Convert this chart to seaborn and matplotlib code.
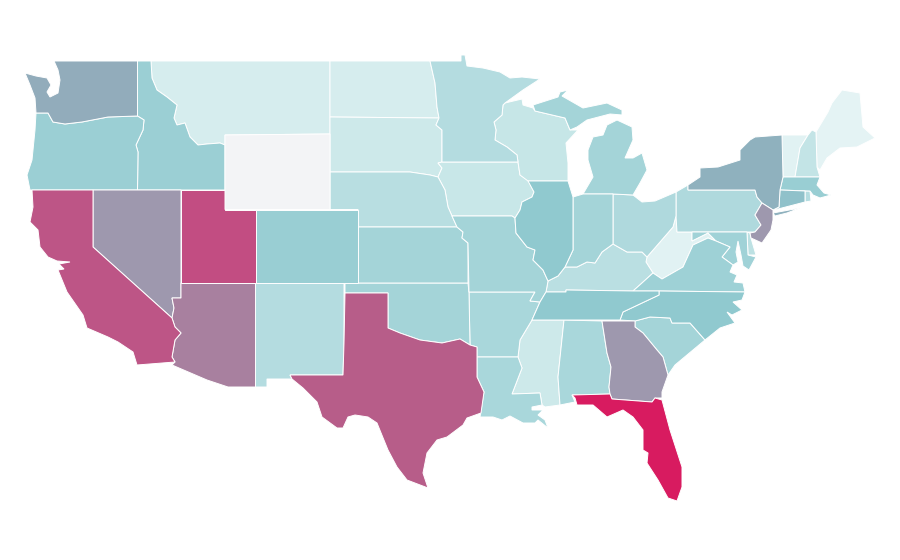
import matplotlib
matplotlib.use("Agg")
import matplotlib.pyplot as plt
import seaborn as sns

# --- DATA ---
STATES = ["ME", "WV", "VT", "MT", "ND", "SD", "MS", "IA", "WI", "NH", "DE", "KY",
          "NE", "NM", "MN", "RI", "PA", "OH", "AR", "AL", "LA", "MI", "OK", "KS",
          "MO", "IN", "SC", "MD", "VA", "ID", "OR", "CO", "MA", "NC", "TN", "IL",
          "CT", "NY", "WA", "NJ", "GA", "NV", "AZ", "TX", "CA", "UT", "FL", "WY"]
VALUES = [10, 11, 11, 15, 15, 18, 18, 20, 21, 22, 24, 25,
          26, 27, 27, 27, 29, 29, 31, 31, 31, 33, 33, 33,
          33, 33, 33, 34, 35, 36, 36, 37, 37, 40, 40, 40,
          43, 50, 52, 60, 60, 60, 70, 80, 85, 90, 100, 0]
# even steps of 10 from 0 to 100
SCALE = ["#f3f4f6", "#e4f3f4", "#c8e7e8", "#acd8dc", "#90c9cf", "#8fb1be",
         "#9e98ae", "#a8819f", "#b75d89", "#c24e83", "#d81b60"]

OUTLINES = {
    "WA": [[(54, 61), (137.5, 61), (137.5, 116), (108, 117), (82, 122), (65, 124), (53, 122), (48, 113), (36, 113),
            (35, 98), (30, 85), (25, 73), (36, 76), (47, 78), (51, 85), (47, 92), (50, 97), (58, 93), (60, 80), (58, 70)]],
    "OR": [[(36, 113), (48, 113), (53, 122), (65, 124), (82, 122), (108, 117), (137.5, 116), (144, 120), (143, 130),
            (136, 145), (138, 152), (137.5, 190), (30, 190), (27, 175), (32, 160), (35, 130)]],
    "ID": [[(137.5, 61), (151, 61), (152, 78), (157, 90), (167, 97), (177, 105), (174, 118), (177, 125), (185, 123),
            (190, 137), (198, 145), (207, 144), (220, 143), (225, 145), (225, 190), (137.5, 190), (138, 152),
            (136, 145), (143, 130), (144, 120), (137.5, 116)]],
    "MT": [[(151, 61), (330, 61), (330, 134), (225, 135), (225, 145), (220, 143), (207, 144), (198, 145), (190, 137),
            (185, 123), (177, 125), (174, 118), (177, 105), (167, 97), (157, 90), (152, 78)]],
    "WY": [[(225, 135), (330, 134), (330, 209.5), (225, 209.5)]],
    "CA": [[(32, 190), (93, 190), (93, 247), (172, 318), (175, 327), (181, 333), (175, 340), (172, 357), (175, 362),
            (137, 365), (133, 352), (118, 342), (108, 337), (87, 328), (83, 315), (67, 292), (58, 270), (64, 269),
            (59, 264), (70, 262), (57, 261), (48, 257), (40, 247), (38, 230), (30, 222), (33, 207)]],
    "NV": [[(93, 190), (181, 190), (181, 298), (172, 298), (174, 308), (172, 318), (93, 247)]],
    "UT": [[(181, 190), (225, 190), (225, 209.5), (255.5, 209.5), (255.5, 283), (181, 283)]],
    "AZ": [[(181, 283), (255.5, 283), (255.5, 387), (228, 387), (207, 380), (172, 365), (175, 362), (172, 357),
            (175, 340), (181, 333), (175, 327), (172, 318), (174, 308), (172, 298), (181, 298)]],
    "CO": [[(255.5, 209.5), (358, 209.5), (358, 283), (255.5, 283)]],
    "NM": [[(255.5, 283), (344, 283), (344, 343), (343, 375), (290, 375), (292, 379), (267, 379), (267, 387), (255.5, 387)]],
    "TX": [[(345, 293), (388, 293), (388, 328), (400, 333), (420, 340), (442, 343), (460, 339), (470, 345), (477, 347),
            (477, 377), (484, 392), (481, 413), (467, 418), (463, 425), (447, 437), (437, 440), (427, 453), (423, 473),
            (428, 488), (407, 480), (397, 467), (388, 450), (377, 423), (368, 417), (355, 415), (348, 417), (343, 428),
            (337, 428), (322, 417), (317, 402), (303, 388), (292, 379), (290, 375), (343, 375), (344, 343)]],
    "OK": [[(345, 283), (468, 283), (469, 293), (470, 345), (460, 339), (442, 343), (420, 340), (400, 333), (388, 328),
            (388, 293), (345, 293)]],
    "KS": [[(358, 227), (457, 227), (463, 232), (462, 238), (468, 243), (468, 283), (358, 283)]],
    "NE": [[(330, 172), (410, 172), (430, 175), (438, 177), (445, 190), (448, 207), (452, 216), (457, 227), (358, 227),
            (358, 209.5), (330, 209.5)]],
    "SD": [[(330, 117), (439, 118), (436, 125), (442, 130), (442, 162), (438, 163), (442, 168), (438, 177), (430, 175),
            (410, 172), (330, 172)]],
    "ND": [[(330, 61), (430, 61), (435, 83), (437, 107), (439, 118), (330, 117)]],
    "MN": [[(430, 61), (461, 61), (461, 55), (465, 55), (467, 66), (483, 68), (500, 72), (510, 78), (522, 77), (540, 79),
            (523, 90), (505, 103), (503, 105), (502, 115), (494, 122), (496, 130), (495, 140), (507, 147), (517, 155),
            (518, 162), (442, 162), (442, 130), (436, 125), (439, 118), (437, 107), (435, 83)]],
    "IA": [[(442, 162), (518, 162), (520, 175), (528, 180), (534, 192), (532, 197), (522, 202), (520, 210), (515, 218),
            (512, 216), (452, 216), (448, 207), (445, 190), (438, 177), (442, 168), (438, 163)]],
    "MO": [[(452, 216), (512, 216), (515, 218), (516, 233), (527, 247), (535, 250), (533, 260), (543, 270), (548, 281),
            (546, 292), (540, 302), (530, 301), (535, 292), (469, 292), (468, 243), (462, 238), (463, 232), (457, 227)]],
    "AR": [[(469, 292), (535, 292), (530, 301), (540, 302), (532, 320), (520, 340), (518, 357), (477, 357), (477, 347),
            (470, 345)]],
    "LA": [[(477, 357), (518, 357), (522, 368), (512, 394), (540, 393), (542, 405), (532, 407), (532, 410), (543, 410),
            (538, 415), (545, 420), (548, 428), (538, 420), (535, 423), (523, 423), (510, 416), (502, 420), (493, 417),
            (480, 417), (484, 392), (477, 377)]],
    "WI": [[(505, 103), (522, 99), (523, 105), (533, 108), (535, 111), (565, 118), (570, 130), (578, 130), (566, 143),
            (568, 163), (568, 181), (528, 181), (520, 175), (518, 162), (517, 155), (507, 147), (495, 140), (496, 130),
            (494, 122), (502, 115), (503, 105)]],
    "IL": [[(528, 181), (568, 181), (573, 197), (573, 250), (565, 267), (558, 276), (548, 281), (543, 270), (533, 260),
            (535, 250), (527, 247), (516, 233), (515, 218), (520, 210), (522, 202), (532, 197), (534, 192)]],
    "IN": [[(573, 197), (583, 194), (613, 194), (613, 244), (602, 252), (595, 263), (587, 262), (577, 267), (565, 267),
            (573, 250)]],
    "MI": [[(583, 194), (593, 177), (588, 160), (588, 150), (593, 137), (603, 135), (607, 125), (617, 120), (632, 127),
            (633, 140), (625, 158), (633, 158), (642, 153), (647, 170), (640, 183), (633, 195), (613, 194)],
           [(533, 105), (558, 97), (560, 92), (568, 90), (562, 96), (583, 108), (607, 103), (622, 110), (622, 115),
            (610, 114), (587, 120), (577, 127), (570, 130), (565, 118), (535, 111)]],
    "OH": [[(613, 194), (633, 195), (642, 202), (655, 201), (676, 192), (676, 216), (673, 227), (660, 242), (647, 257),
            (642, 252), (627, 252), (613, 244)]],
    "KY": [[(548, 281), (558, 276), (565, 267), (577, 267), (587, 262), (595, 263), (602, 252), (613, 244), (627, 252),
            (642, 252), (647, 257), (646, 262), (653, 273), (642, 283), (633, 291), (566, 290), (566, 292), (546, 292)]],
    "TN": [[(546, 292), (566, 292), (566, 290), (633, 291), (659, 291), (659, 295), (642, 303), (623, 312), (620, 320),
            (532, 320), (540, 302)]],
    "MS": [[(532, 320), (564, 320), (558, 377), (560, 405), (545, 407), (542, 405), (540, 393), (512, 394), (522, 368),
            (518, 357), (520, 340)]],
    "AL": [[(564, 320), (602, 321), (607, 353), (611, 367), (609, 387), (610, 394), (572, 395), (575, 402), (560, 405),
            (558, 377)]],
    "GA": [[(602, 321), (635, 321), (635, 327), (643, 333), (657, 350), (663, 357), (668, 375), (662, 392), (662, 398),
            (655, 398), (652, 402), (612, 399), (610, 394), (609, 387), (611, 367), (607, 353)]],
    "FL": [[(572, 395), (610, 394), (612, 399), (652, 402), (655, 398), (662, 400), (670, 430), (682, 467), (682, 487),
            (677, 501), (668, 498), (658, 480), (647, 463), (648, 453), (643, 450), (643, 430), (633, 417), (623, 410),
            (607, 417), (593, 405), (577, 405), (575, 398)]],
    "SC": [[(635, 321), (650, 317), (670, 318), (672, 323), (690, 323), (705, 340), (693, 350), (675, 365), (668, 375),
            (663, 357), (657, 350), (643, 333), (635, 327)]],
    "NC": [[(659, 291), (745, 292), (742, 300), (733, 302), (742, 310), (732, 315), (727, 312), (735, 323), (720, 328),
            (705, 340), (690, 323), (672, 323), (670, 318), (650, 317), (635, 321), (620, 320), (623, 312), (642, 303),
            (659, 295)]],
    "VA": [[(633, 291), (642, 283), (653, 273), (662, 279), (683, 267), (693, 245), (708, 238), (716, 241), (730, 247),
            (722, 257), (733, 265), (730, 272), (737, 275), (734, 282), (743, 283), (745, 292), (659, 291)]],
    "WV": [[(676, 216), (677, 232), (692, 232), (692, 241), (708, 233), (716, 241), (708, 238), (693, 245), (683, 267),
            (662, 279), (653, 273), (646, 262), (647, 257), (660, 242), (673, 227)]],
    "MD": [[(692, 232), (747, 232), (748, 255), (756, 257), (749, 270), (743, 266), (741, 255), (738, 241), (736, 252),
            (738, 262), (733, 265), (722, 257), (730, 247), (716, 241), (708, 233), (692, 241)]],
    "DE": [[(747, 232), (750, 233), (751, 238), (756, 255), (748, 255)]],
    "PA": [[(676, 192), (688, 185), (688, 190), (755, 190), (757, 197), (762, 203), (755, 215), (761, 225), (755, 232),
            (677, 232), (676, 216)]],
    "NY": [[(688, 185), (700, 177), (700, 168), (718, 167), (740, 160), (740, 150), (750, 140), (755, 137), (782, 135),
            (783, 177), (780, 190), (779, 207), (773, 210), (762, 203), (757, 197), (755, 190), (688, 190)],
           [(773, 213), (800, 208), (787, 213), (775, 216)]],
    "NJ": [[(762, 203), (773, 210), (773, 220), (771, 230), (762, 243), (751, 238), (750, 233), (755, 232), (761, 225),
            (755, 215)]],
    "CT": [[(780, 190), (805, 191), (805, 202), (778, 209), (773, 210), (779, 207)]],
    "RI": [[(805, 191), (810, 191), (811, 201), (805, 202)]],
    "MA": [[(783, 177), (795, 177), (820, 177), (817, 185), (824, 193), (831, 195), (820, 198), (813, 195), (810, 191),
            (780, 190)]],
    "VT": [[(782, 135), (808, 135), (800, 148), (795, 177), (783, 177)]],
    "NH": [[(808, 135), (812, 130), (816, 132), (817, 167), (820, 177), (795, 177), (800, 148)]],
    "ME": [[(816, 132), (828, 112), (832, 103), (842, 90), (860, 93), (863, 127), (875, 138), (857, 147), (840, 148),
            (827, 158), (820, 170), (817, 167)]],
}

# --- PLOT ---
sns.set_theme(style="white")
cmap = sns.blend_palette(SCALE, n_colors=256, as_cmap=True)

fig = plt.figure(figsize=(9, 5.6), dpi=100)
ax = fig.add_axes([0, 0, 1, 1])

for state, value in zip(STATES, VALUES):
    for ring in OUTLINES[state]:
        xs = [p[0] for p in ring]
        ys = [p[1] for p in ring]
        ax.fill(xs, ys, facecolor=cmap(value / 100), edgecolor="white", linewidth=0.7)

ax.set_xlim(0, 900)
ax.set_ylim(560, 0)
ax.set_axis_off()

fig.savefig("out.png", dpi=100)
